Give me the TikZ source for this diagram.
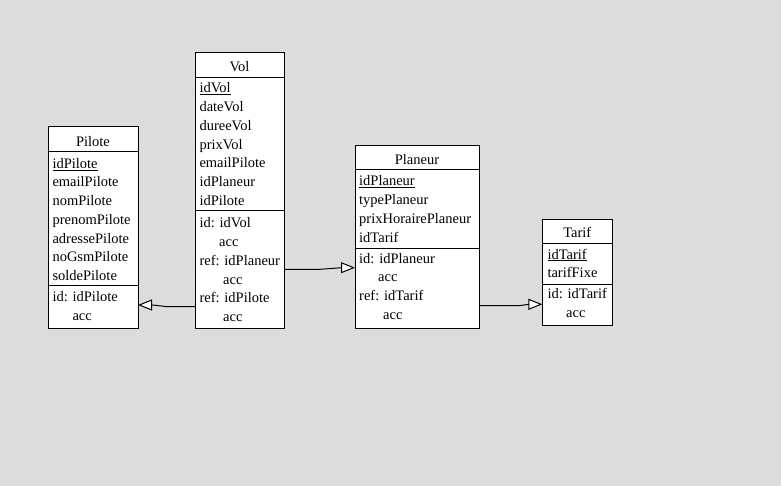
\documentclass[tikz,border=0pt]{standalone}
\usepackage{fontspec}
\setmainfont{Liberation Serif}
\usetikzlibrary{arrows.meta}
\definecolor{bg}{RGB}{220,220,220}
\tikzset{
  ent/.style={draw, fill=white, line width=1pt, inner sep=0pt, outer sep=0pt, anchor=north west},
  sepline/.style={line width=1pt},
  txt/.style={anchor=base west, inner sep=0pt, font=\fontsize{14.5pt}{17pt}\selectfont},
  ttl/.style={anchor=base, inner sep=0pt, font=\fontsize{14.5pt}{17pt}\selectfont},
  link/.style={line width=1pt, -{Triangle[length=14pt,width=11pt,fill=white,line width=1pt]}},
}
\begin{document}
\begin{tikzpicture}[x=1pt,y=-1pt]
\fill[bg] (0,0) rectangle (781,486);
\useasboundingbox (0,0) rectangle (781,486);

% ---------- Pilote
\node[ent, minimum width=90pt, minimum height=201pt] (pilote) at (48,127) {};
\draw[sepline] (pilote.west |- 0,152) -- (pilote.east |- 0,152);
\draw[sepline] (pilote.west |- 0,285.7) -- (pilote.east |- 0,285.7);
\node[ttl] (piloteT) at (93,146.7) {Pilote};
\foreach \t [count=\i] in {\underline{idPilote},emailPilote,nomPilote,prenomPilote,adressePilote,noGsmPilote,soldePilote}
  \node[txt, name=pa\i] at (52.3,{168.3+18.7*(\i-1)}) {\t};
\node[txt] (pk1) at (52.3,301.7) {id: idPilote};
\node[txt] (pk2) at (72.3,320.3) {acc};

% ---------- Vol
\node[ent, minimum width=89pt, minimum height=276pt] (vol) at (195,52.3) {};
\draw[sepline] (vol.west |- 0,77.7) -- (vol.east |- 0,77.7);
\draw[sepline] (vol.west |- 0,210.3) -- (vol.east |- 0,210.3);
\node[ttl] (volT) at (239.5,71.7) {Vol};
\foreach \t [count=\i] in {\underline{idVol},dateVol,dureeVol,prixVol,emailPilote,idPlaneur,idPilote}
  \node[txt, name=va\i] at (199.3,{92.7+18.8*(\i-1)}) {\t};
\node[txt] (vk1) at (199.3,227.7) {id: idVol};
\node[txt] (vk2) at (219,246.5) {acc};
\node[txt] (vk3) at (199.3,265.3) {ref: idPlaneur};
\node[txt] (vk4) at (223,284.1) {acc};
\node[txt] (vk5) at (199.3,302.9) {ref: idPilote};
\node[txt] (vk6) at (223,321.7) {acc};

% ---------- Planeur
\node[ent, minimum width=124pt, minimum height=183pt] (planeur) at (355,145.3) {};
\draw[sepline] (planeur.west |- 0,170) -- (planeur.east |- 0,170);
\draw[sepline] (planeur.west |- 0,248.3) -- (planeur.east |- 0,248.3);
\node[ttl] (planeurT) at (417,165) {Planeur};
\foreach \t [count=\i] in {\underline{idPlaneur},typePlaneur,prixHorairePlaneur,idTarif}
  \node[txt, name=pla\i] at (359,{185.7+18.8*(\i-1)}) {\t};
\node[txt] (plk1) at (359,263.3) {id: idPlaneur};
\node[txt] (plk2) at (378,281.7) {acc};
\node[txt] (plk3) at (359,300.7) {ref: idTarif};
\node[txt] (plk4) at (383,319) {acc};

% ---------- Tarif
\node[ent, minimum width=70pt, minimum height=106.4pt] (tarif) at (542.3,219.3) {};
\draw[sepline] (tarif.west |- 0,243.3) -- (tarif.east |- 0,243.3);
\draw[sepline] (tarif.west |- 0,284.3) -- (tarif.east |- 0,284.3);
\node[ttl] (tarifT) at (577.3,237.3) {Tarif};
\node[txt] (ta1) at (547.3,259) {\underline{idTarif}};
\node[txt] (ta2) at (547.3,277.7) {tarifFixe};
\node[txt] (tk1) at (547.3,298.7) {id: idTarif};
\node[txt] (tk2) at (566,317.7) {acc};

% ---------- connectors
\coordinate (c1a) at (vol.west |- 0,306.7);
\coordinate (c1b) at (167,306.7);
\coordinate (c1c) at (153,305);
\draw[link] (c1a) -- (c1b) -- (c1c) -- (pilote.east |- c1c);

\coordinate (c2a) at (vol.east |- 0,269.3);
\coordinate (c2b) at (320,269.3);
\coordinate (c2c) at (341.7,267.7);
\draw[link] (c2a) -- (c2b) -- (c2c) -- (planeur.west |- c2c);

\coordinate (c3a) at (planeur.east |- 0,305.7);
\coordinate (c3b) at (519,305.7);
\coordinate (c3c) at (529,304.3);
\draw[link] (c3a) -- (c3b) -- (c3c) -- (tarif.west |- c3c);
\end{tikzpicture}
\end{document}
